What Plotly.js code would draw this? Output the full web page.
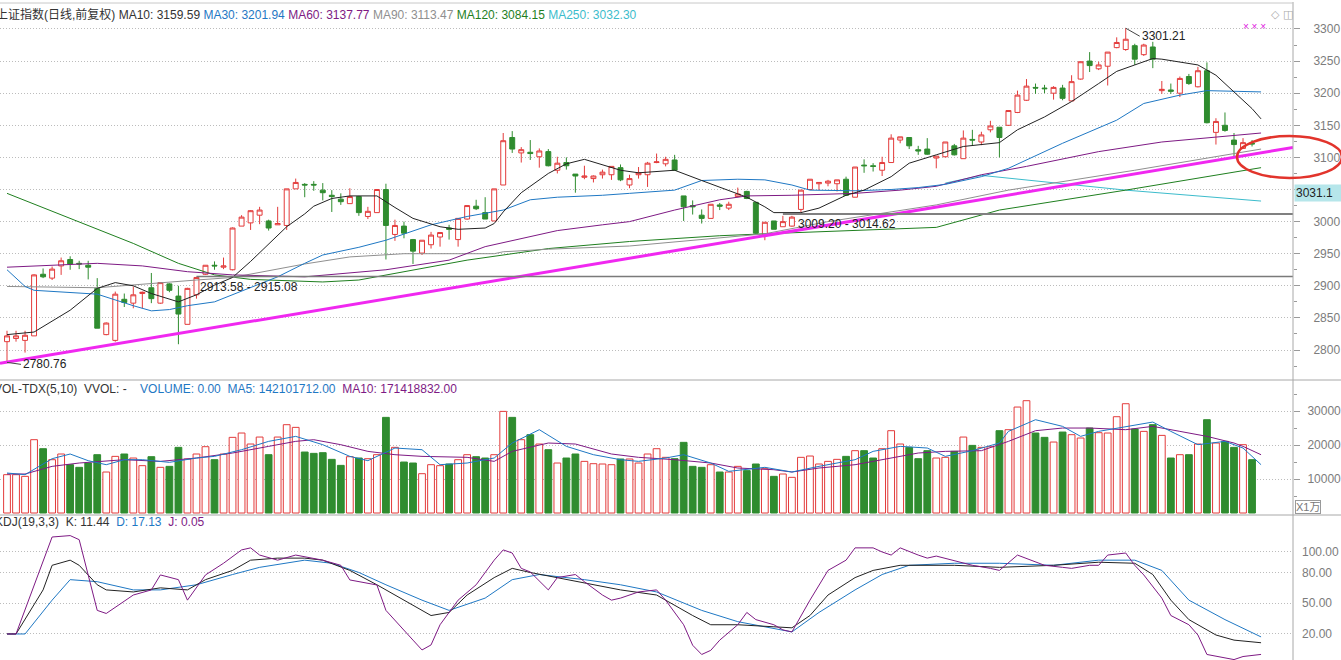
<!DOCTYPE html>
<html><head><meta charset="utf-8">
<script src="https://cdn.plot.ly/plotly-3.0.1.min.js"></script>
<style>html,body{margin:0;padding:0;background:#fff;overflow:hidden}#chart{width:1341px;height:660px}</style>
</head><body><div id="chart"></div>
<script>
// ---------------- DATA ----------------
const openP = [2813,2818,2815,2822,2918,2912,2931,2941,2935,2932,
2896,2824,2815,2879,2873,2888,2897,2873,2903,2884,
2840,2886,2918,2932,2929,2925,2993,2998,3010,3001,
2995,2994,3051,3058,3058,3049,3041,3035,3028,3039,
3008,3014,3050,2980,2993,2972,2951,2964,2976,2990,
2972,3004,3024,3014,3001,3057,3131,3107,3108,3101,
3109,3080,3092,3074,3069,3067,3073,3073,3084,3057,
3073,3073,3092,3090,3096,3040,3025,3010,3005,3026,
3021,3039,3047,3030,2979,3001,2992,2993,3019,3050,
3059,3060,3059,3066,3038,3088,3087,3080,3092,3127,
3131,3112,3113,3099,3101,3118,3098,3128,3124,3143,
3147,3150,3170,3189,3209,3208,3200,3208,3188,3222,
3250,3238,3242,3271,3268,3274,3260,3272,3204,3205,
3200,3226,3210,3235,3139,3150,3127,3114,3122];
const highP = [2830,2830,2830,2918,2927,2930,2944,2946,2939,2939,
2912,2843,2891,2888,2899,2891,2920,2905,2904,2900,
2897,2914,2932,2938,2944,2991,3010,3018,3023,3003,
3023,3051,3067,3060,3063,3060,3049,3044,3052,3040,
3023,3050,3059,3003,3000,2973,2971,2984,2983,2995,
3005,3025,3034,3038,3051,3138,3141,3116,3127,3114,
3113,3101,3100,3074,3087,3072,3081,3086,3089,3073,
3085,3093,3106,3101,3104,3040,3033,3019,3027,3029,
3031,3053,3048,3030,2999,3001,3009,3009,3049,3066,
3061,3065,3065,3070,3085,3097,3091,3101,3136,3132,
3131,3118,3130,3102,3124,3121,3142,3143,3140,3157,
3147,3173,3204,3222,3215,3213,3211,3213,3228,3249,
3264,3249,3264,3287,3301.21,3277,3277,3280,3219,3215,
3226,3230,3241,3248,3161,3170,3138,3130,3127];
const lowP = [2780.76,2813,2796,2822,2912,2909,2917,2925,2926,2910,
2834,2823,2813,2867,2865,2865,2873,2872,2890,2809,
2840,2880,2917,2925,2926,2924,2993,2987,2996,2986,
2995,2987,3051,3038,3048,3033,3015,3026,3028,3009,
3004,3014,2941,2970,2974,2934,2948,2958,2961,2972,
2961,3003,3018,3004,3001,3057,3107,3092,3096,3084,
3086,3075,3081,3045,3066,3061,3067,3065,3063,3052,
3067,3054,3091,3086,3079,3001,3011,2997,3005,3018,
3018,3038,3035,2981,2971,2988,2992,2992,3015,3050,
3049,3055,3047,3040,3038,3076,3078,3071,3092,3122,
3113,3104,3104,3083,3100,3103,3098,3119,3119,3139,
3100,3149,3169,3188,3199,3200,3190,3189,3188,3221,
3233,3236,3212,3270,3266,3244,3258,3239,3199,3199,
3194,3213,3209,3153,3120,3140,3102,3114,3117];
const closeP = [2822,2822,2823,2917,2914,2926,2939,2934,2934,2929,
2834,2842,2887,2874,2886,2890,2880,2905,2893,2856,
2896,2913,2932,2931,2931,2990,3007,3017,3018,2990,
2997,3051,3061,3057,3057,3045,3039,3031,3039,3014,
3016,3050,2994,2994,2982,2954,2971,2979,2983,2988,
3005,3025,3020,3004,3051,3126,3113,3112,3106,3110,
3087,3091,3087,3071,3071,3071,3077,3086,3065,3067,
3076,3091,3093,3097,3080,3023,3023,3005,3027,3024,
3027,3043,3036,2982,2999,2988,3000,3007,3049,3066,
3061,3063,3065,3041,3085,3087,3086,3092,3130,3132,
3118,3110,3105,3102,3124,3104,3130,3127,3135,3149,
3131,3173,3197,3211,3208,3207,3209,3192,3218,3249,
3243,3244,3264,3279,3284,3253,3275,3253,3206,3203,
3223,3215,3235,3154,3156,3142,3120,3123,3121];
// volume in 万 (x10000)
const volume = [11270,11270,10780,21560,18910,15680,17350,14210,13430,14700,
17150,12050,16660,17350,16170,13920,16560,13430,13720,19310,
15880,17350,19500,15680,17350,22250,23520,20290,22340,17150,
22340,25970,25190,17930,17540,17740,15780,14010,16560,16170,
15970,17150,28130,19310,14990,14700,11560,14210,13920,14410,
15680,17150,16560,16170,17150,29890,28130,21560,23030,20290,
18620,14700,16170,17350,15190,14500,14410,14210,15880,15880,
14700,17350,18910,16370,15970,20780,13720,13430,14210,12050,
12050,13720,12450,14410,13030,10780,11470,10490,16370,16760,
14410,15190,15780,16660,18330,18330,16170,18910,24210,20290,
19310,15970,18330,16170,16370,18130,22340,19890,19310,19500,
24210,24500,31160,33030,23520,22250,20870,23810,23030,22050,
24990,23620,23520,28320,32140,24700,24010,25970,22830,16170,
17150,17150,20290,27440,20580,21070,19310,20090,15680];

// price moving averages (day index, value)
const ma10Idx = [0,3,7,10,12,14,16,19,21,23,25,27,31,33,34,36,38,41,43,45,48,50,53,54,55,57,60,62,64,66,68,70,74,77,80,82,84,85,88,90,93,95,98,100,103,106,110,112,115,118,121,123,125,127,128,130,132,134,136,138,139];
const ma10 = [2824,2828,2862,2896,2905,2900,2888,2875,2886,2901,2913,2938,2992,3012,3024,3036,3040,3040,3022,3005,2992,2988,2990,2997,3015,3045,3075,3090,3097,3088,3080,3076,3080,3064,3049,3038,3023,3014,3014,3021,3041,3049,3070,3091,3104,3117,3123,3143,3163,3187,3215,3234,3244,3254,3253,3248,3244,3228,3202,3176,3160];
const ma30Idx = [0,2,3,7,10,14,16,18,20,23,25,27,30,33,35,39,42,47,51,55,58,61,66,69,74,77,81,84,87,89,94,98,101,104,108,111,117,123,126,130,133,139];
const ma30 = [2925,2899,2893,2889,2887,2869,2861,2863,2869,2875,2886,2898,2914,2935,2948,2960,2971,2995,3008,3018,3034,3038,3041,3044,3049,3064,3066,3065,3057,3049,3048,3050,3053,3058,3070,3083,3122,3158,3184,3197,3204,3202];
const ma60Idx = [0,10,15,20,25,29,33,42,49,53,57,61,66,69,74,79,82,87,94,99,103,108,113,121,128,134,139];
const ma60 = [2929,2935,2931,2922,2917,2915,2914,2925,2940,2961,2974,2986,2995,3000,3018,3034,3040,3041,3044,3049,3055,3073,3086,3109,3124,3132,3138];
const ma90Idx = [0,10,21,25,33,38,44,54,55,60,69,79,84,91,98,103,111,125,139];
const ma90 = [2899,2897,2909,2913,2934,2945,2950,2950,2953,2957,2962,2974,2981,3000,3015,3026,3049,3080,3113];
const ma120Idx = [0,7,14,19,23,27,35,39,45,51,60,69,79,84,103,110,124,139];
const ma120 = [3044,3005,2966,2935,2917,2910,2906,2909,2925,2940,2958,2969,2978,2981,2991,3018,3049,3084];
const ma250Idx = [104,108,124,139];
const ma250 = [3060,3072,3049,3032];

// volume moving averages
const vma5Idx = [0,2,5,7,9,11,13,15,18,21,23,26,29,32,35,38,40,43,46,48,51,54,56,59,62,65,68,70,73,75,78,80,84,87,90,94,96,99,102,104,107,110,111,114,117,119,121,124,127,129,132,135,137,139];
const vma5 = [11760,11270,15970,17350,15390,14210,15680,15680,14900,16170,16660,18620,21070,22540,20090,16660,15390,19110,18620,14210,14700,16170,20580,24500,19600,17150,15680,15190,16170,17150,14700,12250,13430,12050,13720,15680,18130,19600,19110,16660,18330,20580,24010,27440,25480,22540,24010,25480,26750,24010,20090,21070,19110,14210];
const vma10Idx = [0,2,5,8,13,17,21,25,29,32,34,37,40,43,46,51,54,56,60,63,67,70,74,78,81,85,87,90,94,97,101,104,108,111,114,117,120,124,127,130,133,136,137,139];
const vma10 = [11470,11470,13720,14700,15680,15190,16170,17640,19600,21070,21560,20090,18130,17150,16660,16370,15190,18130,20580,20290,17350,16370,15680,14700,13230,12740,12050,13230,14210,15680,17640,18130,18330,21070,24210,24990,24990,24500,25480,24010,22540,20580,19600,17140];

// KDJ(19,3,3)
const kIdx = [0,1,4,5,7,8,10,11,14,17,20,22,25,27,30,33,35,38,41,45,47,49,51,54,56,58,61,65,68,72,76,78,81,85,87,89,91,94,96,99,105,110,116,121,125,127,129,131,134,136,139];
const kVal = [20,20,63,87,92,87,68,63,61,65,63,73,82,92,94,94,92,82,68,48,38,41,58,75,84,80,75,68,63,58,38,29,29,27,26,38,58,75,82,87,87,85,87,90,89,78,53,34,19,14,11.44];
const dIdx = [0,2,5,7,10,14,17,21,25,28,33,36,39,42,46,49,53,56,59,64,68,72,77,81,87,90,94,97,100,105,110,116,121,125,128,131,135,139];
const dVal = [20,20,53,73,71,63,63,68,78,85,92,89,80,68,53,43,55,73,78,73,68,61,43,32,22,41,63,78,87,89,89,87,92,92,82,53,34,17.13];
const jIdx = [0,1,5,7,8,10,11,14,16,17,19,20,22,24,26,27,28,30,32,35,37,38,41,42,45,46,47,48,50,52,54,55,56,57,58,60,61,63,64,66,67,68,70,72,73,75,76,77,78,79,81,82,83,85,86,87,89,91,93,94,96,97,98,99,101,102,103,106,107,109,110,112,115,117,118,120,121,122,124,125,126,128,129,131,132,133,136,137,139];
const jVal = [20,20,114.6,116,112,43,40,58,63,77.6,73,53,77.6,89,102,104,97,92,97,92,87,72.7,67.8,43,14,4.4,9.3,29,53,68,92,102,99,84,80.5,63,75,78,71,58,53,55,61,63,53,29,9,0,4,14,29,41,34,29,24,22,53,82,92,104,104,100,97,104,97,94,96,89,87,84,82,97,87,85,84,87,87,97,99,87,77.6,55,38,29,19,0,-5,-2,0.05];

const priceTicks = [2800,2850,2900,2950,3000,3050,3100,3150,3200,3250,3300];
const priceTickText = ['2800','2850','2900','2950','3000','','3100','3150','3200','3250','3300'];
const volTicks = [10000,20000,30000];
const volTickText = ['10000','20000','30000'];
const kdjTicks = [20,50,80,100];
const kdjTickText = ['20.00','50.00','80.00','100.00'];
const supportLevels = [[2913.58,2915.08],[3009.20,3014.62]];
const highLabel = 3301.21, lowLabel = 2780.76;

// ---------------- CHART ----------------
const RED = '#e33b3b', GREEN = '#2f8c2f';
const C_MA10 = '#222222', C_MA30 = '#1f78c4', C_MA60 = '#7e1a84', C_MA90 = '#8f8f8f', C_MA120 = '#1f7f1f', C_MA250 = '#3cbccc';
const dayIdx = openP.map((_, i) => i);
const isUp = closeP.map((c, i) => c >= openP[i]);
const PW = 1293, PH = 660;
const px = v => v / PW, py = v => 1 - v / PH;
const FONT = 'Liberation Sans, Arial, Noto Sans CJK SC, sans-serif';

function line(x, y, color, yaxis, w) {
  return {type:'scatter', mode:'lines', x:x, y:y, xaxis:'x', yaxis:yaxis,
    line:{color:color, width:w||1}, hoverinfo:'skip'};
}

const traces = [
  {type:'candlestick', x:dayIdx, open:openP, high:highP, low:lowP, close:closeP,
   xaxis:'x', yaxis:'y', whiskerwidth:0, hoverinfo:'skip',
   increasing:{line:{color:RED, width:1}, fillcolor:'#ffffff'},
   decreasing:{line:{color:GREEN, width:1}, fillcolor:GREEN}},
  line(ma250Idx, ma250, C_MA250, 'y'),
  line(ma120Idx, ma120, C_MA120, 'y'),
  line(ma90Idx, ma90, C_MA90, 'y'),
  line(ma60Idx, ma60, C_MA60, 'y'),
  line(ma30Idx, ma30, C_MA30, 'y'),
  line(ma10Idx, ma10, C_MA10, 'y'),
  {type:'bar', x:dayIdx, y:volume, xaxis:'x', yaxis:'y2', hoverinfo:'skip',
   marker:{color:isUp.map(u => u ? '#ffffff' : GREEN),
           line:{color:isUp.map(u => u ? RED : GREEN), width:1}}},
  line(vma10Idx, vma10, C_MA60, 'y2'),
  line(vma5Idx, vma5, C_MA30, 'y2'),
  line(dIdx, dVal, C_MA30, 'y3'),
  line(kIdx, kVal, C_MA10, 'y3'),
  line(jIdx, jVal, C_MA60, 'y3')
];

const axisCommon = {side:'right', anchor:'x', showgrid:true, gridcolor:'#bcbcbc', griddash:'1px,2px', gridwidth:1,
  zeroline:false, showline:false, ticks:'outside', ticklen:6, tickcolor:'#9a9a9a', tickwidth:1,
  tickfont:{family:FONT, size:12, color:'#7c7c7c'}, fixedrange:true};

const priceTop = 20, priceBot = 380, volTop = 381, volBot = 515, kdjTop = 516;
const layout = {
  width:1341, height:660, margin:{l:0, r:48, t:0, b:0},
  paper_bgcolor:'#ffffff', plot_bgcolor:'#ffffff', showlegend:false, hovermode:false,
  boxgap:0.22, bargap:0.25, font:{family:FONT, size:12, color:'#333'},
  xaxis:{range:[-0.776, 142.54], visible:false, rangeslider:{visible:false}, fixedrange:true},
  yaxis:Object.assign({}, axisCommon, {domain:[py(priceBot), py(priceTop)], range:[2753.3, 3314],
    tickmode:'array', tickvals:priceTicks, ticktext:priceTickText, ticklabelstandoff:11,
    minor:{tick0:2775, dtick:50, ticks:'outside', ticklen:3, tickcolor:'#9a9a9a', showgrid:false}}),
  yaxis2:Object.assign({}, axisCommon, {domain:[py(volBot), py(volTop)], range:[-588, 38824],
    tickmode:'array', tickvals:volTicks, ticktext:volTickText, ticklabelstandoff:5,
    minor:{tick0:5000, dtick:10000, ticks:'outside', ticklen:3, tickcolor:'#9a9a9a', showgrid:false}}),
  yaxis3:Object.assign({}, axisCommon, {domain:[0, py(kdjTop)], range:[-5.4, 135.1],
    tickmode:'array', tickvals:kdjTicks, ticktext:kdjTickText, ticks:'', ticklabelstandoff:8}),
  shapes:[
    {type:'line', xref:'x', yref:'y', x0:-0.776, y0:2779.3, x1:142.54, y1:3115.4,
     line:{color:'#f028f0', width:3}, layer:'above'},
    {type:'line', xref:'x', yref:'y', x0:21, x1:142.54,
     y0:(supportLevels[0][0]+supportLevels[0][1])/2, y1:(supportLevels[0][0]+supportLevels[0][1])/2,
     line:{color:'#7a7a7a', width:1.5}, layer:'above'},
    {type:'line', xref:'x', yref:'y', x0:86, x1:142.54,
     y0:(supportLevels[1][0]+supportLevels[1][1])/2, y1:(supportLevels[1][0]+supportLevels[1][1])/2,
     line:{color:'#808080', width:2}, layer:'above'},
    {type:'line', xref:'paper', yref:'paper', x0:0, x1:px(1341), y0:py(380), y1:py(380), line:{color:'#a8a8a8', width:1}},
    {type:'line', xref:'paper', yref:'paper', x0:0, x1:px(1341), y0:py(515), y1:py(515), line:{color:'#a8a8a8', width:1}},
    {type:'line', xref:'paper', yref:'paper', x0:1, x1:1, y0:0, y1:py(2), line:{color:'#a8a8a8', width:1}},
    {type:'line', xref:'paper', yref:'paper', x0:0, x1:1, y0:py(3), y1:py(3), line:{color:'#c8c8c8', width:1}},
    {type:'circle', xref:'paper', yref:'paper', x0:px(1237), x1:px(1342), y0:py(178), y1:py(136),
     line:{color:'#e2342c', width:2.5}, layer:'above'}
  ],
  annotations:[
    {xref:'paper', yref:'paper', x:px(-6), y:py(15), xanchor:'left', yanchor:'middle', showarrow:false,
     font:{family:FONT, size:12, color:'#333'},
     text:'上证指数(日线,前复权) MA10: 3159.59 <span style="color:'+C_MA30+'">MA30: 3201.94</span> <span style="color:'+C_MA60+'">MA60: 3137.77</span> <span style="color:'+C_MA90+'">MA90: 3113.47</span> <span style="color:'+C_MA120+'">MA120: 3084.15</span> <span style="color:'+C_MA250+'">MA250: 3032.30</span>'},
    {xref:'paper', yref:'paper', x:px(-8), y:py(389), xanchor:'left', yanchor:'middle', showarrow:false,
     font:{family:FONT, size:12, color:'#333'},
     text:'VOL-TDX(5,10)  VVOL: -    <span style="color:'+C_MA30+'">VOLUME: 0.00  MA5: 142101712.00</span>  <span style="color:'+C_MA60+'">MA10: 171418832.00</span>'},
    {xref:'paper', yref:'paper', x:px(-7), y:py(522), xanchor:'left', yanchor:'middle', showarrow:false,
     font:{family:FONT, size:12, color:'#333'},
     text:'KDJ(19,3,3)  K: 11.44  <span style="color:'+C_MA30+'">D: 17.13</span>  <span style="color:'+C_MA60+'">J: 0.05</span>'},
    {xref:'x', yref:'y', x:124, y:highLabel, ax:14, ay:8, xanchor:'left', yanchor:'middle', showarrow:true,
     arrowhead:0, arrowwidth:1, arrowcolor:'#444', text:highLabel.toFixed(2), font:{family:FONT, size:12, color:'#222'}},
    {xref:'x', yref:'y', x:0, y:lowLabel, ax:14, ay:2, xanchor:'left', yanchor:'middle', showarrow:true,
     arrowhead:0, arrowwidth:1, arrowcolor:'#444', text:lowLabel.toFixed(2), font:{family:FONT, size:12, color:'#222'}},
    {xref:'x', yref:'y', x:21.2, y:(supportLevels[0][0]+supportLevels[0][1])/2, xanchor:'left', yanchor:'top', yshift:-1, showarrow:false,
     text:supportLevels[0][0].toFixed(2)+' - '+supportLevels[0][1].toFixed(2), font:{family:FONT, size:12, color:'#222'}},
    {xref:'x', yref:'y', x:87.4, y:(supportLevels[1][0]+supportLevels[1][1])/2, xanchor:'left', yanchor:'top', yshift:-1, showarrow:false,
     text:supportLevels[1][0].toFixed(2)+' - '+supportLevels[1][1].toFixed(2), font:{family:FONT, size:12, color:'#222'}},
    {xref:'paper', yref:'paper', x:px(1294), y:py(192.5), xanchor:'left', yanchor:'middle', showarrow:false,
     text:'3031.1', bgcolor:'#b6e6ea', width:44, align:'left', font:{family:FONT, size:12, color:'#222'}},
    {xref:'paper', yref:'paper', x:px(1295), y:py(507), xanchor:'left', yanchor:'middle', showarrow:false,
     text:'X1万', bordercolor:'#9a9a9a', borderwidth:1, borderpad:0, font:{family:FONT, size:11, color:'#777'}},
    {xref:'paper', yref:'paper', x:px(1254), y:py(27), xanchor:'center', yanchor:'middle', showarrow:false,
     text:'× × ×', font:{family:FONT, size:10, color:'#e020e0'}},
    {xref:'paper', yref:'paper', x:px(1282), y:py(15), xanchor:'center', yanchor:'middle', showarrow:false,
     text:'◇ ◫', font:{family:'DejaVu Sans', size:11, color:'#aaaaaa'}}
  ]
};

Plotly.newPlot('chart', traces, layout, {staticPlot:true, displayModeBar:false});
</script>
</body></html>
